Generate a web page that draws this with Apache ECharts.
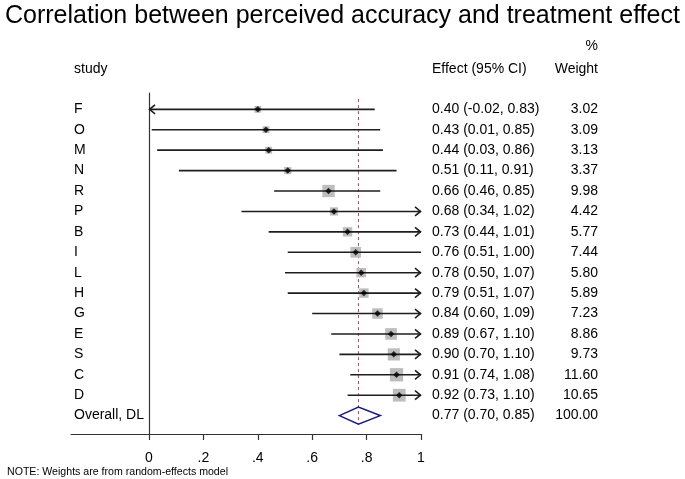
<!DOCTYPE html>
<html>
<head>
<meta charset="utf-8">
<script src="https://cdn.jsdelivr.net/npm/echarts@6/dist/echarts.min.js"></script>
<style>html,body{margin:0;padding:0;background:#fff}#c{width:685px;height:479px}</style>
</head>
<body>
<div id="c"></div>
<script>
const studies = ['F','O','M','N','R','P','B','I','L','H','G','E','S','C','D'];
const es      = [0.40,0.43,0.44,0.51,0.66,0.68,0.73,0.76,0.78,0.79,0.84,0.89,0.90,0.91,0.92];
const lo      = [-0.02,0.01,0.03,0.11,0.46,0.34,0.44,0.51,0.50,0.51,0.60,0.67,0.70,0.74,0.73];
const hi      = [0.83,0.85,0.86,0.91,0.85,1.02,1.01,1.00,1.07,1.07,1.09,1.10,1.10,1.08,1.10];
const weights = [3.02,3.09,3.13,3.37,9.98,4.42,5.77,7.44,5.80,5.89,7.23,8.86,9.73,11.60,10.65];
const overallLabel = 'Overall, DL';
const overallES = 0.77, overallLo = 0.70, overallHi = 0.85, overallW = 100.00;
const tickValues = [0, 0.2, 0.4, 0.6, 0.8, 1];
const tickLabels = ['0', '.2', '.4', '.6', '.8', '1'];

const FONT = '"Liberation Sans", Arial, sans-serif';
const FS = 14;
const XMIN = 0, XMAX = 1;
const f2 = v => v.toFixed(2);

const rows = studies.map((s, i) => ({
  label: s, es: es[i], lo: lo[i], hi: hi[i], w: weights[i], idx: i
}));
const nRows = rows.length;

const chart = echarts.init(document.getElementById('c'), null, {renderer: 'canvas'});

const ciData = rows.map(r => [r.lo, r.hi, r.idx, r.es]);
const boxData = rows.map(r => [r.es, r.idx, r.w]);
const pointData = rows.map(r => [r.es, r.idx]);
const textData = rows.map(r => [r.idx, r.label, f2(r.es) + ' (' + f2(r.lo) + ', ' + f2(r.hi) + ')', f2(r.w)]);
textData.push([nRows, overallLabel, f2(overallES) + ' (' + f2(overallLo) + ', ' + f2(overallHi) + ')', f2(overallW)]);

const option = {
  animation: false,
  backgroundColor: '#fff',
  title: {
    text: 'Correlation between perceived accuracy and treatment effect',
    left: 0, top: -1,
    textStyle: {fontFamily: FONT, fontSize: 25, fontWeight: 'normal', color: '#000'}
  },
  grid: {left: 71, right: 264, top: 93, bottom: 45, containLabel: false},
  xAxis: {
    type: 'value',
    min: -0.2868, max: 1,
    axisLine: {show: true, onZero: false, lineStyle: {color: '#333', width: 1.2}},
    axisTick: {show: true, customValues: tickValues, length: 6, inside: false, lineStyle: {color: '#333', width: 1.2}},
    axisLabel: {
      customValues: tickValues, margin: 17,
      formatter: v => { const k = tickValues.findIndex(t => Math.abs(t - v) < 1e-6); return k >= 0 ? tickLabels[k] : ''; },
      fontFamily: FONT, fontSize: FS, color: '#000'
    },
    splitLine: {show: false}
  },
  yAxis: {
    type: 'value', inverse: true, min: -0.8, max: 15.9,
    axisLine: {show: true, onZero: true, lineStyle: {color: '#333', width: 1.2}},
    axisTick: {show: false}, axisLabel: {show: false}, splitLine: {show: false}
  },
  graphic: [
    {type: 'text', x: 598, y: 46, style: {text: '%', font: FS + 'px ' + FONT, fill: '#000', align: 'right', verticalAlign: 'middle'}},
    {type: 'text', x: 598, y: 69, style: {text: 'Weight', font: FS + 'px ' + FONT, fill: '#000', align: 'right', verticalAlign: 'middle'}},
    {type: 'text', x: 74, y: 69, style: {text: 'study', font: FS + 'px ' + FONT, fill: '#000', align: 'left', verticalAlign: 'middle'}},
    {type: 'text', x: 432, y: 69, style: {text: 'Effect (95% CI)', font: FS + 'px ' + FONT, fill: '#000', align: 'left', verticalAlign: 'middle'}},
    {type: 'text', x: 7, y: 472, style: {text: 'NOTE: Weights are from random-effects model', font: '10.6px ' + FONT, fill: '#000', align: 'left', verticalAlign: 'middle'}}
  ],
  series: [
    {
      type: 'custom', clip: false, z: 1,
      data: [[overallES, -0.5, nRows + 0.4]],
      renderItem: (params, api) => {
        const p1 = api.coord([api.value(0), api.value(1)]);
        const p2 = api.coord([api.value(0), api.value(2)]);
        return {type: 'line', shape: {x1: p1[0], y1: p1[1], x2: p2[0], y2: p2[1]},
          style: {stroke: '#a8485a', lineWidth: 1, lineDash: [3, 3]}};
      }
    },
    {
      type: 'scatter', z: 2,
      symbol: 'rect',
      symbolSize: d => Math.sqrt(d[2]) * 3.9,
      itemStyle: {color: '#bdbdbd', opacity: 1},
      data: boxData
    },
    {
      type: 'custom', clip: false, z: 3,
      data: ciData,
      renderItem: (params, api) => {
        const l = api.value(0), h = api.value(1), y = api.value(2);
        const lc = Math.max(l, XMIN), hc = Math.min(h, XMAX);
        const a = api.coord([lc, y]), b = api.coord([hc, y]);
        const children = [{type: 'line', shape: {x1: a[0], y1: a[1], x2: b[0], y2: b[1]},
          style: {stroke: '#1e1e1e', lineWidth: 1.6}}];
        const ah = 6, aw = 4.5;
        if (l < XMIN) {
          children.push({type: 'polyline', shape: {points: [[a[0] + ah, a[1] - aw], [a[0] + 0.5, a[1]], [a[0] + ah, a[1] + aw]]},
            style: {stroke: '#1e1e1e', lineWidth: 1.6, fill: null}});
        }
        if (h > XMAX) {
          children.push({type: 'polyline', shape: {points: [[b[0] - ah, b[1] - aw], [b[0] - 0.5, b[1]], [b[0] - ah, b[1] + aw]]},
            style: {stroke: '#1e1e1e', lineWidth: 1.6, fill: null}});
        }
        return {type: 'group', children};
      }
    },
    {
      type: 'scatter', z: 4,
      symbol: 'diamond', symbolSize: 6.5,
      itemStyle: {color: '#000'},
      data: pointData
    },
    {
      type: 'custom', clip: false, z: 5,
      data: [[overallLo, overallES, overallHi, nRows]],
      renderItem: (params, api) => {
        const y = api.value(3);
        const L = api.coord([api.value(0), y]);
        const C = api.coord([api.value(1), y]);
        const R = api.coord([api.value(2), y]);
        const hh = 8.5;
        return {type: 'polygon', shape: {points: [[L[0], L[1]], [C[0], C[1] - hh], [R[0], R[1]], [C[0], C[1] + hh]]},
          style: {stroke: '#1a1a80', lineWidth: 1.6, fill: 'rgba(255,255,255,0)'}};
      }
    },
    {
      type: 'custom', clip: false, z: 6,
      data: textData,
      renderItem: (params, api) => {
        const y = api.coord([0, api.value(0)])[1];
        const d = textData[params.dataIndex];
        const font = FS + 'px ' + FONT;
        return {type: 'group', children: [
          {type: 'text', x: 74, y: y, style: {text: d[1], font, fill: '#000', align: 'left', verticalAlign: 'middle'}},
          {type: 'text', x: 432, y: y, style: {text: d[2], font, fill: '#000', align: 'left', verticalAlign: 'middle'}},
          {type: 'text', x: 598, y: y, style: {text: d[3], font, fill: '#000', align: 'right', verticalAlign: 'middle'}}
        ]};
      }
    }
  ]
};
chart.setOption(option);
</script>
</body>
</html>
